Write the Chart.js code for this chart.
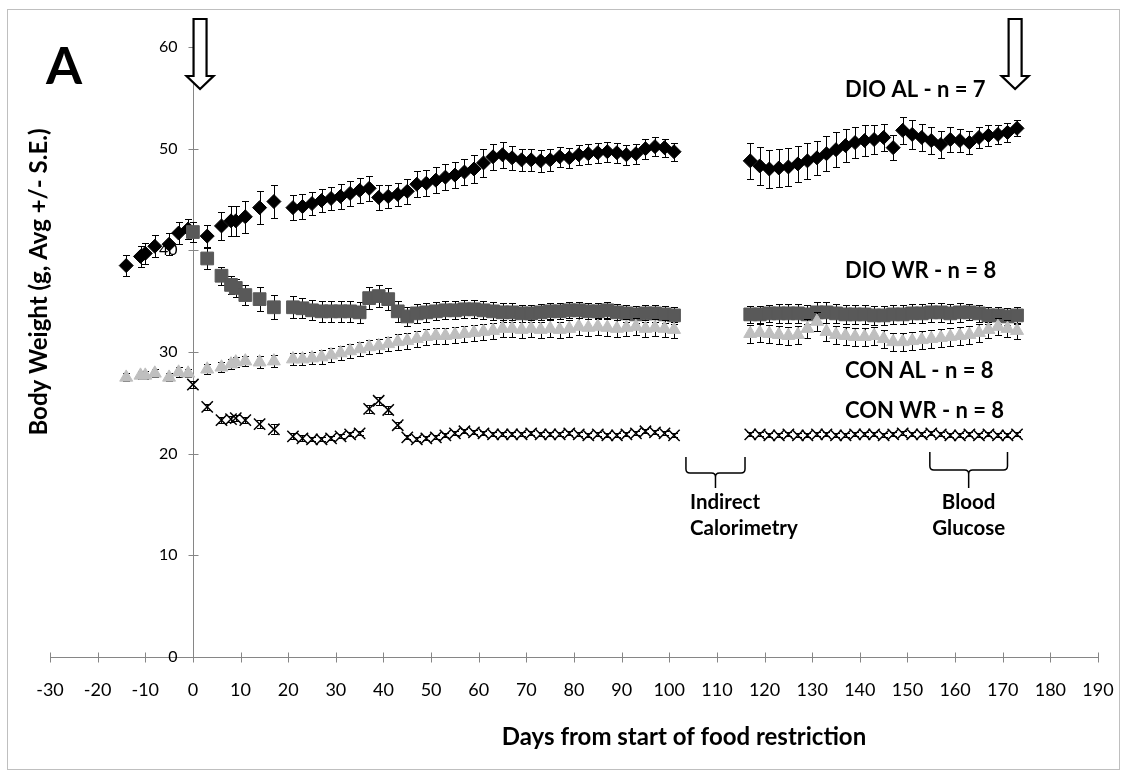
<!DOCTYPE html>
<html>
<head>
<meta charset="utf-8">
<script src="https://cdn.jsdelivr.net/npm/chart.js@4.4.1/dist/chart.umd.min.js"></script>
<style>
  body { margin: 0; background: #fff; }
  canvas { display: block; }
</style>
</head>
<body>
<canvas id="chart" width="1128" height="777"></canvas>
<script>
// measurement days
const daysPre = [-14, -11, -10, -8, -5, -3, -1];
const daysEarly = [3, 6, 8, 9, 11, 14, 17];
const daysMid = [21, 23, 25, 27, 29, 31, 33, 35, 37, 39, 41, 43, 45, 47, 49, 51, 53, 55, 57, 59,
  61, 63, 65, 67, 69, 71, 73, 75, 77, 79, 81, 83, 85, 87, 89, 91, 93, 95, 97, 99, 101];
const daysLate = [117, 119, 121, 123, 125, 127, 129, 131, 133, 135, 137, 139, 141, 143, 145,
  147, 149, 151, 153, 155, 157, 159, 161, 163, 165, 167, 169, 171, 173];

// DIO AL - n = 7
const dioAlWeight = [38.5, 39.4, 39.7, 40.4, 40.6, 41.7, 42.1,
  41.4, 42.4, 42.9, 42.9, 43.3, 44.2, 44.8,
  44.2, 44.3, 44.6, 44.9, 45.1, 45.3, 45.6, 45.9, 46.1, 45.2, 45.3, 45.5, 45.8, 46.5, 46.6, 46.9,
  47.2, 47.4, 47.7, 48.0, 48.6, 49.2, 49.4, 49.1, 48.9, 48.9, 48.8, 48.9, 49.2, 49.1, 49.4, 49.5,
  49.6, 49.7, 49.6, 49.4, 49.5, 50.0, 50.2, 50.1, 49.7,
  48.8, 48.3, 48.0, 48.1, 48.2, 48.5, 48.8, 49.1, 49.5, 49.9, 50.3, 50.6, 50.8, 50.9, 51.1,
  50.1, 51.8, 51.4, 51.1, 50.8, 50.4, 50.9, 50.8, 50.6, 51.1, 51.3, 51.4, 51.6, 52.0];
const dioAlSE = [1.0, 1.0, 1.0, 1.1, 1.1, 1.1, 1.0,
  1.1, 1.4, 1.5, 1.5, 1.6, 1.6, 1.6,
  1.2, 1.2, 1.1, 1.1, 1.1, 1.2, 1.2, 1.2, 1.2, 1.2, 1.1, 1.1, 1.2, 1.3, 1.3, 1.3, 1.3, 1.3, 1.3,
  1.4, 1.4, 1.3, 1.3, 1.2, 1.1, 1.1, 1.1, 1.1, 1.0, 1.0, 1.0, 1.0, 1.0, 1.0, 1.0, 1.0, 1.0, 1.0,
  0.9, 0.9, 0.9,
  1.8, 1.9, 1.9, 1.9, 1.9, 1.8, 1.8, 1.7, 1.7, 1.7, 1.6, 1.5, 1.5, 1.4, 1.3, 1.2, 1.3, 1.4, 1.3,
  1.3, 1.3, 1.2, 1.1, 1.1, 1.0, 1.0, 0.9, 0.9, 0.8];

// DIO WR - n = 8
const dioWrWeight = [41.8,
  39.2, 37.5, 36.6, 36.3, 35.6, 35.2, 34.4,
  34.4, 34.3, 34.1, 34.0, 34.0, 34.0, 34.0, 33.9, 35.3, 35.5, 35.2, 34.0, 33.5, 33.8, 33.9, 34.0,
  34.1, 34.1, 34.2, 34.2, 34.1, 34.0, 33.9, 33.9, 33.8, 33.8, 33.9, 34.0, 34.0, 34.1, 34.1, 34.0,
  34.0, 34.1, 33.9, 33.8, 33.7, 33.8, 33.8, 33.7, 33.6,
  33.7, 33.7, 33.8, 33.8, 33.8, 33.8, 33.7, 33.9, 33.9, 33.8, 33.7, 33.7, 33.7, 33.6, 33.6,
  33.7, 33.7, 33.8, 33.8, 33.9, 33.9, 33.8, 33.9, 33.9, 33.8, 33.6, 33.6, 33.5, 33.6];
const dioWrSE = [1.0,
  1.0, 0.9, 0.9, 0.9, 1.0, 1.2, 1.2,
  1.1, 1.0, 1.0, 1.0, 1.0, 1.0, 1.0, 1.0, 1.1, 1.1, 1.1, 1.0, 0.9, 0.9, 0.9, 0.9, 0.9, 0.9, 0.9,
  0.9, 0.9, 0.9, 0.9, 0.9, 0.8, 0.8, 0.8, 0.8, 0.8, 0.8, 0.8, 0.8, 0.8, 0.8, 0.8, 0.8, 0.8, 0.8,
  0.8, 0.8, 0.8,
  0.8, 0.8, 0.8, 0.9, 0.9, 0.9, 0.9, 1.0, 1.0, 0.9, 0.9, 0.9, 0.9, 0.9, 0.9, 0.9, 0.9, 0.9, 0.9,
  0.9, 0.9, 0.9, 0.9, 0.8, 0.8, 0.8, 0.8, 0.8, 0.8];

// CON AL - n = 8
const conAlWeight = [27.5, 27.7, 27.7, 27.9, 27.5, 28.0, 27.9,
  28.3, 28.5, 28.8, 29.0, 29.1, 29.0, 29.1,
  29.3, 29.3, 29.4, 29.5, 29.7, 29.9, 30.1, 30.3, 30.5, 30.6, 30.8, 31.0, 31.1, 31.3, 31.5, 31.6,
  31.6, 31.7, 31.8, 31.9, 32.0, 32.1, 32.3, 32.3, 32.2, 32.3, 32.2, 32.3, 32.2, 32.3, 32.5, 32.4,
  32.5, 32.4, 32.3, 32.4, 32.5, 32.3, 32.4, 32.3, 32.2,
  31.8, 31.9, 31.8, 31.7, 31.6, 31.7, 32.3, 33.0, 32.0, 31.7, 31.6, 31.5, 31.5, 31.6, 31.3,
  31.0, 31.0, 31.1, 31.2, 31.3, 31.4, 31.5, 31.6, 31.7, 31.9, 32.2, 32.5, 32.3, 32.1];
const conAlSE = [0.4, 0.4, 0.4, 0.4, 0.4, 0.5, 0.4,
  0.5, 0.5, 0.5, 0.5, 0.5, 0.6, 0.6,
  0.6, 0.6, 0.6, 0.7, 0.7, 0.7, 0.7, 0.7, 0.7, 0.7, 0.7, 0.8, 0.8, 0.8, 0.8, 0.8, 0.8, 0.8, 0.8,
  0.8, 0.8, 0.8, 0.8, 0.8, 0.8, 0.8, 0.8, 0.8, 0.8, 0.8, 0.8, 0.8, 0.8, 0.8, 0.8, 0.8, 0.8, 0.8,
  0.8, 0.8, 0.8,
  0.9, 0.9, 0.9, 0.9, 0.9, 0.9, 0.9, 0.9, 0.9, 0.9, 0.9, 0.9, 0.9, 0.9, 0.9, 0.9, 0.9, 0.9, 0.9,
  0.9, 0.9, 0.9, 0.9, 0.9, 0.9, 0.8, 0.8, 0.8, 0.8];

// CON WR - n = 8
const conWrWeight = [26.8,
  24.6, 23.3, 23.4, 23.5, 23.3, 22.9, 22.4,
  21.7, 21.5, 21.4, 21.4, 21.5, 21.7, 21.9, 22.0, 24.4, 25.2, 24.3, 22.8, 21.6, 21.4, 21.5, 21.6,
  21.8, 22.0, 22.2, 22.1, 22.0, 21.9, 21.9, 21.9, 21.9, 22.0, 21.9, 21.9, 21.9, 22.0, 21.9, 21.8,
  21.9, 21.8, 21.8, 21.9, 22.0, 22.2, 22.1, 22.0, 21.8,
  21.9, 21.9, 21.8, 21.8, 21.9, 21.8, 21.8, 21.9, 21.9, 21.8, 21.8, 21.9, 21.9, 21.9, 21.8,
  21.9, 22.0, 21.9, 21.9, 22.0, 21.9, 21.8, 21.8, 21.9, 21.8, 21.9, 21.8, 21.8, 21.9];
const conWrSE = [0.3,
  0.3, 0.3, 0.3, 0.3, 0.3, 0.4, 0.5,
  0.3, 0.3, 0.2, 0.2, 0.2, 0.2, 0.2, 0.2, 0.4, 0.4, 0.4, 0.3, 0.2, 0.2, 0.2, 0.2, 0.2, 0.2, 0.2,
  0.2, 0.2, 0.2, 0.2, 0.2, 0.2, 0.2, 0.2, 0.2, 0.2, 0.2, 0.2, 0.2, 0.2, 0.2, 0.2, 0.2, 0.2, 0.2,
  0.2, 0.2, 0.2,
  0.2, 0.2, 0.2, 0.2, 0.2, 0.2, 0.2, 0.2, 0.2, 0.2, 0.2, 0.2, 0.2, 0.2, 0.2, 0.2, 0.2, 0.2, 0.2,
  0.2, 0.2, 0.2, 0.2, 0.2, 0.2, 0.2, 0.2, 0.2, 0.2];

const xTicks = [-30, -20, -10, 0, 10, 20, 30, 40, 50, 60, 70, 80, 90, 100, 110, 120, 130, 140,
  150, 160, 170, 180, 190];
const yTicks = [0, 10, 20, 30, 40, 50, 60];

const seriesLabels = ["DIO AL - n = 7", "DIO WR - n = 8", "CON AL - n = 8", "CON WR - n = 8"];

const alDays = [...daysPre, ...daysEarly, ...daysMid, ...daysLate];
const wrDays = [0, ...daysEarly, ...daysMid, ...daysLate];

function toPoints(days, values) {
  return days.map((d, i) => ({ x: d, y: values[i] }));
}

const FONT = "Lato, 'Open Sans', sans-serif";
const AXIS_COLOR = "#868686";

const errorBars = {
  id: "errorBars",
  beforeDatasetDraw(chart, args) {
    const ds = chart.data.datasets[args.index];
    if (!ds.se) return;
    const { ctx, scales: { x, y } } = chart;
    ctx.save();
    ctx.strokeStyle = "#000";
    ctx.lineWidth = 1;
    ctx.beginPath();
    ds.data.forEach((p, i) => {
      const px = Math.round(x.getPixelForValue(p.x)) + 0.5;
      const top = Math.round(y.getPixelForValue(p.y + ds.se[i])) + 0.5;
      const bot = Math.round(y.getPixelForValue(p.y - ds.se[i])) + 0.5;
      ctx.moveTo(px, top);
      ctx.lineTo(px, bot);
      ctx.moveTo(px - 3.5, top);
      ctx.lineTo(px + 3.5, top);
      ctx.moveTo(px - 3.5, bot);
      ctx.lineTo(px + 3.5, bot);
    });
    ctx.stroke();
    ctx.restore();
  },
};

const axesAndNotes = {
  id: "axesAndNotes",
  beforeDraw(chart) {
    const { ctx } = chart;
    ctx.save();
    ctx.fillStyle = "#fff";
    ctx.fillRect(0, 0, chart.width, chart.height);
    ctx.strokeStyle = "#BFBFBF";
    ctx.lineWidth = 1;
    ctx.strokeRect(7.5, 9.5, 1112, 760);
    ctx.restore();
  },
  beforeDatasetsDraw(chart) {
    const { ctx, scales: { x, y } } = chart;
    const x0 = Math.round(x.getPixelForValue(0)) + 0.5;
    const y0 = Math.round(y.getPixelForValue(0)) + 0.5;
    ctx.save();
    ctx.strokeStyle = AXIS_COLOR;
    ctx.lineWidth = 1;
    ctx.beginPath();
    // x axis
    ctx.moveTo(x.getPixelForValue(xTicks[0]), y0);
    ctx.lineTo(x.getPixelForValue(xTicks[xTicks.length - 1]), y0);
    xTicks.forEach(t => {
      const px = Math.round(x.getPixelForValue(t)) + 0.5;
      ctx.moveTo(px, y0 - 5);
      ctx.lineTo(px, y0 + 5);
    });
    // y axis
    ctx.moveTo(x0, y.getPixelForValue(yTicks[yTicks.length - 1]));
    ctx.lineTo(x0, y0);
    yTicks.forEach(t => {
      const py = Math.round(y.getPixelForValue(t)) + 0.5;
      ctx.moveTo(x0 - 5, py);
      ctx.lineTo(x0 + 5, py);
    });
    ctx.stroke();

    ctx.fillStyle = "#000";
    ctx.textBaseline = "middle";
    ctx.font = "18px " + FONT;
    ctx.textAlign = "center";
    xTicks.forEach(t => ctx.fillText(String(t), x.getPixelForValue(t), y0 + 33));
    ctx.font = "16px " + FONT;
    ctx.textAlign = "right";
    yTicks.forEach(t => ctx.fillText(String(t), x0 - 16, y.getPixelForValue(t)));

    // axis titles
    ctx.font = "bold 24px " + FONT;
    ctx.textAlign = "center";
    ctx.fillText("Days from start of food restriction", 684, 737);
    ctx.save();
    ctx.translate(39, 282);
    ctx.rotate(-Math.PI / 2);
    ctx.fillText("Body Weight (g, Avg +/- S.E.)", 0, 0);
    ctx.restore();
    ctx.restore();
  },
  afterDatasetsDraw(chart) {
    const { ctx, scales: { x } } = chart;
    ctx.save();
    ctx.fillStyle = "#000";
    ctx.textBaseline = "middle";

    // panel letter
    ctx.font = "bold 52px " + FONT;
    ctx.textAlign = "left";
    ctx.fillText("A", 46, 67);

    // series labels
    ctx.font = "bold 22px " + FONT;
    const labelY = [90, 271, 371, 411];
    seriesLabels.forEach((s, i) => ctx.fillText(s, 845, labelY[i]));

    // arrows marking start / end of restriction
    [1.5, 172.6].forEach(d => {
      const cx = x.getPixelForValue(d);
      ctx.beginPath();
      ctx.moveTo(cx - 6.5, 19);
      ctx.lineTo(cx + 6.5, 19);
      ctx.lineTo(cx + 6.5, 76);
      ctx.lineTo(cx + 13.5, 76);
      ctx.lineTo(cx, 89);
      ctx.lineTo(cx - 13.5, 76);
      ctx.lineTo(cx - 6.5, 76);
      ctx.closePath();
      ctx.fillStyle = "#fff";
      ctx.fill();
      ctx.lineWidth = 2.2;
      ctx.strokeStyle = "#000";
      ctx.stroke();
    });

    // braces
    function brace(d1, d2, top, bot, stemBot) {
      const x1 = x.getPixelForValue(d1);
      const x2 = x.getPixelForValue(d2);
      const xm = (x1 + x2) / 2;
      const r = 4;
      ctx.beginPath();
      ctx.moveTo(x1, top);
      ctx.lineTo(x1, bot - r);
      ctx.quadraticCurveTo(x1, bot, x1 + r, bot);
      ctx.lineTo(xm - r, bot);
      ctx.quadraticCurveTo(xm, bot, xm, bot + r);
      ctx.lineTo(xm, stemBot);
      ctx.moveTo(xm, bot + r);
      ctx.quadraticCurveTo(xm, bot, xm + r, bot);
      ctx.lineTo(x2 - r, bot);
      ctx.quadraticCurveTo(x2, bot, x2, bot - r);
      ctx.lineTo(x2, top);
      ctx.lineWidth = 1.5;
      ctx.strokeStyle = "#000";
      ctx.stroke();
      return xm;
    }
    brace(103.5, 115.9, 457, 473, 488);
    const bm = brace(154.7, 171, 452, 470, 488);

    ctx.fillStyle = "#000";
    ctx.font = "bold 20.5px " + FONT;
    ctx.textAlign = "left";
    ctx.fillText("Indirect", 690, 502);
    ctx.fillText("Calorimetry", 690, 528);
    ctx.textAlign = "center";
    ctx.fillText("Blood", bm, 502);
    ctx.fillText("Glucose", bm, 528);
    ctx.restore();
  },
};

new Chart(document.getElementById("chart"), {
  type: "scatter",
  data: {
    datasets: [
      {
        label: seriesLabels[0],
        data: toPoints(alDays, dioAlWeight),
        se: dioAlSE,
        pointStyle: "rectRot",
        pointRadius: 7,
        backgroundColor: "#000",
        borderColor: "#000",
        borderWidth: 1,
        order: 4,
      },
      {
        label: seriesLabels[1],
        data: toPoints(wrDays, dioWrWeight),
        se: dioWrSE,
        pointStyle: "rect",
        pointRadius: 9,
        backgroundColor: "#595959",
        borderColor: "#595959",
        borderWidth: 1,
        order: 3,
      },
      {
        label: seriesLabels[2],
        data: toPoints(alDays, conAlWeight),
        se: conAlSE,
        pointStyle: "triangle",
        pointRadius: 7.5,
        backgroundColor: "#BFBFBF",
        borderColor: "#BFBFBF",
        borderWidth: 1,
        order: 2,
      },
      {
        label: seriesLabels[3],
        data: toPoints(wrDays, conWrWeight),
        se: conWrSE,
        pointStyle: "crossRot",
        pointRadius: 8,
        backgroundColor: "#000",
        borderColor: "#000",
        borderWidth: 1.5,
        order: 1,
      },
    ],
  },
  options: {
    responsive: false,
    animation: false,
    layout: { padding: { left: 50, right: 30, top: 47, bottom: 120 } },
    scales: {
      x: { type: "linear", min: -30, max: 190, display: false },
      y: { type: "linear", min: 0, max: 60, display: false },
    },
    plugins: {
      legend: { display: false },
      tooltip: { enabled: false },
    },
  },
  plugins: [errorBars, axesAndNotes],
});
</script>
</body>
</html>
